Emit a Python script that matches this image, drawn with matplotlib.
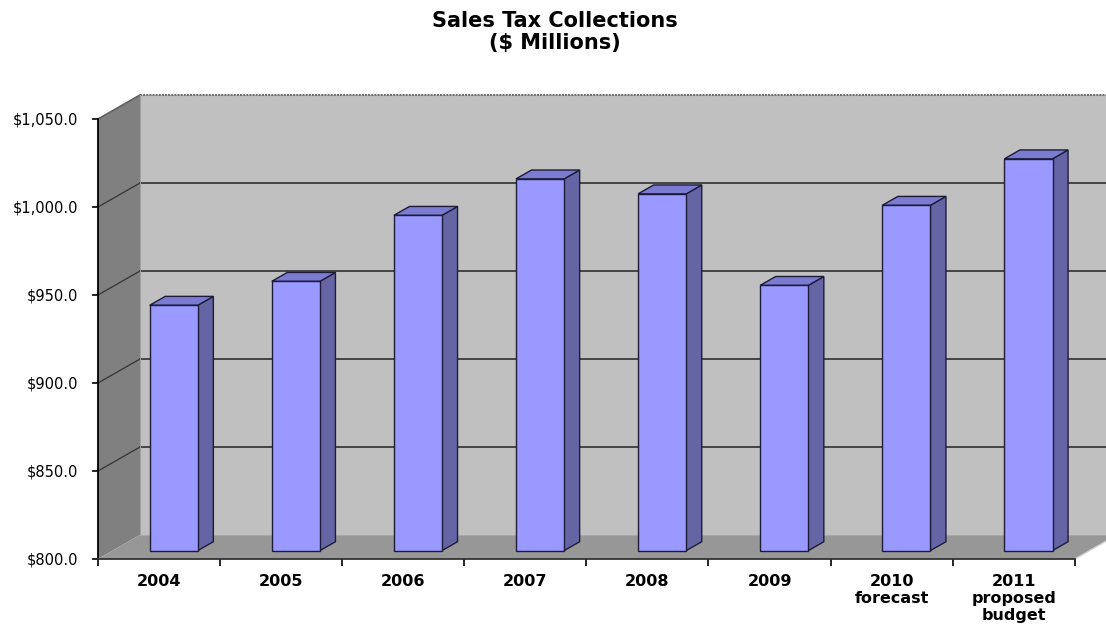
import numpy as np
import matplotlib
matplotlib.use("Agg")
import matplotlib.pyplot as plt
from matplotlib.patches import Polygon

# data
years = ["2004", "2005", "2006", "2007", "2008", "2009", "2010\nforecast", "2011\nproposed\nbudget"]
sales_tax = [939.4, 953.0, 990.5, 1011.2, 1002.7, 950.7, 996.2, 1022.6]
y_ticks = [800, 850, 900, 950, 1000, 1050]
y_labels = ["$800.0", "$850.0", "$900.0", "$950.0", "$1,000.0", "$1,050.0"]

W, H = 1106, 626
fig = plt.figure(figsize=(W / 100, H / 100), dpi=100)

# axes placed in pixels: category -0.5 at x=98, $800 at y=559 (from top)
px_per_cat = 122.1
px_per_val = 1.76
left_px, bottom_px, top_px = 98, 559, 90
ax = fig.add_axes([left_px / W, (H - bottom_px) / H, (W - left_px) / W, (bottom_px - top_px) / H])
ax.set_xlim(-0.5, -0.5 + (W - left_px) / px_per_cat)
ax.set_ylim(800, 800 + (bottom_px - top_px) / px_per_val)
ax.patch.set_visible(False)

# 3d depth offset (in data units)
DX = 42 / px_per_cat
DY = 24 / px_per_val
ymin, ymax = 800, 1050
xmin, xmax = -0.5, len(years) - 0.5

wall_back = "#c0c0c0"
wall_left = "#808080"
floor_c = "#979797"

# back wall
ax.add_patch(Polygon([(xmin + DX, ymin + DY), (xmax + DX, ymin + DY),
                      (xmax + DX, ymax + DY), (xmin + DX, ymax + DY)],
                     closed=True, fc=wall_back, ec="none", zorder=0))
# left wall
ax.add_patch(Polygon([(xmin, ymin), (xmin + DX, ymin + DY), (xmin + DX, ymax + DY), (xmin, ymax)],
                     closed=True, fc=wall_left, ec="none", zorder=0))
# floor
ax.add_patch(Polygon([(xmin, ymin), (xmax, ymin), (xmax + DX, ymin + DY), (xmin + DX, ymin + DY)],
                     closed=True, fc=floor_c, ec="none", zorder=0))

# gridlines on the walls
for v in y_ticks[1:-1]:
    ax.plot([xmin + DX, xmax + DX], [v + DY, v + DY], color="#3a3a3a", lw=1.3, zorder=1)
    ax.plot([xmin, xmin + DX], [v, v + DY], color="#3a3a3a", lw=1.0, zorder=1)
ax.plot([xmin + DX, xmax + DX], [ymax + DY, ymax + DY], color="#707070", lw=1.5, ls=(0, (1, 0.5)), zorder=1)
ax.plot([xmin, xmin + DX], [ymax, ymax + DY], color="#606060", lw=1.2, zorder=1)
ax.plot([xmin + DX, xmin + DX], [ymin + DY, ymax + DY], color="#a0a0a0", lw=0.8, zorder=1)
ax.plot([xmin + DX, xmax + DX], [ymin + DY, ymin + DY], color="#a8a8a8", lw=0.8, zorder=1)
ax.plot([xmax, xmax + DX], [ymin, ymin + DY], color="#d0d0d0", lw=1.0, zorder=1)

# bars
d0, d1 = 0.35, 0.72
hw = 0.197
x = np.arange(len(years))
edge = "#1c1c38"
heights = [v - ymin for v in sales_tax]
ax.bar(x + d0 * DX, heights, bottom=ymin + d0 * DY, width=2 * hw,
       color="#9999ff", edgecolor=edge, linewidth=1.0, zorder=3)
for xi, v in zip(x, sales_tax):
    side = [(xi + hw + d0 * DX, ymin + d0 * DY), (xi + hw + d1 * DX, ymin + d1 * DY),
            (xi + hw + d1 * DX, v + d1 * DY), (xi + hw + d0 * DX, v + d0 * DY)]
    top = [(xi - hw + d0 * DX, v + d0 * DY), (xi + hw + d0 * DX, v + d0 * DY),
           (xi + hw + d1 * DX, v + d1 * DY), (xi - hw + d1 * DX, v + d1 * DY)]
    ax.add_patch(Polygon(side, closed=True, fc="#6565a6", ec=edge, lw=1.0, zorder=2))
    ax.add_patch(Polygon(top, closed=True, fc="#7b7bd2", ec=edge, lw=1.0, zorder=2))

# axes lines and ticks
for s in ["top", "right"]:
    ax.spines[s].set_visible(False)
ax.spines["left"].set_bounds(ymin, ymax)
ax.spines["bottom"].set_bounds(xmin, xmax)
ax.spines["left"].set_linewidth(1.3)
ax.spines["bottom"].set_linewidth(1.3)
ax.spines["bottom"].set_color("#333333")

ax.set_yticks(y_ticks)
ax.set_yticklabels(y_labels, fontsize=10.5, family="DejaVu Sans")
ax.tick_params(axis="y", length=4, width=1.2, pad=10, direction="out")

ax.set_xticks(np.arange(len(years) + 1) - 0.5)
ax.set_xticklabels([])
ax.set_xticks(x, minor=True)
ax.set_xticklabels(years, minor=True, fontsize=11.5, fontweight="bold",
                   family="DejaVu Sans", linespacing=1.15)
ax.tick_params(axis="x", which="major", length=5, width=1.2, direction="out")
ax.tick_params(axis="x", which="minor", length=0, pad=11)

fig.text(555 / W, 1 - 11 / H, "Sales Tax Collections\n($ Millions)", ha="center", va="top",
         fontsize=15, fontweight="bold", family="DejaVu Sans", linespacing=1.1)

fig.savefig("out.png", dpi=100)
